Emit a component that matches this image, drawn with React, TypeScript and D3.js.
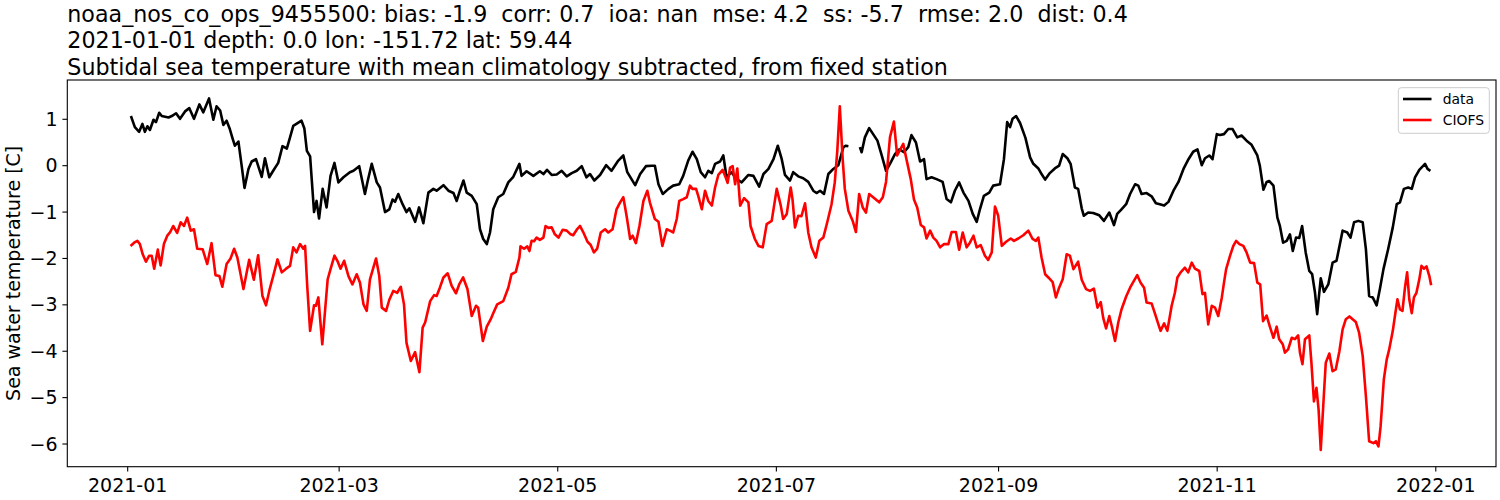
import React from "react";
import * as d3 from "d3";

const TITLE_LINES = [
  "noaa_nos_co_ops_9455500: bias: -1.9  corr: 0.7  ioa: nan  mse: 4.2  ss: -5.7  rmse: 2.0  dist: 0.4",
  "2021-01-01 depth: 0.0 lon: -151.72 lat: 59.44",
  "Subtidal sea temperature with mean climatology subtracted, from fixed station",
];
const Y_LABEL = "Sea water temperature [C]";
const START_DATE = "2021-01-01";
const X_TICKS = ["2021-01-01", "2021-03-01", "2021-05-01", "2021-07-01", "2021-09-01", "2021-11-01", "2022-01-01"];
const X_TICK_LABELS = ["2021-01", "2021-03", "2021-05", "2021-07", "2021-09", "2021-11", "2022-01"];
const Y_TICKS = [-6, -5, -4, -3, -2, -1, 0, 1];
const SERIES_NAMES = ["data", "CIOFS"];
const SERIES_COLORS = ["#000000", "#ff0000"];

// days since START_DATE
const DATA_DAYS = [
  0.9, 2, 3.2, 4.1, 4.8, 5.5, 6.2, 7.2, 7.9, 8.8, 9.5, 11.4, 12.3, 13.5, 14.6, 16, 17.2, 18.5, 20, 21.1,
  22.7, 23.9, 24.8, 25.8, 26.7, 27.6, 28.5, 29.3, 29.9, 30.9, 31.8, 32.6, 33.7, 34.6, 35.8, 37.4, 38.3, 39.5, 40.6, 42,
  43.2, 44.4, 45.3, 46.2, 48.5, 49.3, 50.0, 50.9, 52, 52.7, 53.4, 54.4, 55.5, 56.6, 57.7, 58.8, 60.2, 62, 63, 64.6,
  66.2, 67, 68.1, 69.5, 70.4, 71.8, 73, 73.9, 74.6, 75.5, 76.7, 77.8, 78.6, 80.2, 81.3, 82.5, 83.9, 85.3, 86.2, 88.1,
  89.5, 90.9, 91.8, 92.7, 93.7, 94.6, 96, 97.4, 98.3, 99.2, 100.2, 101.1, 102, 103.4, 104.8, 106.2, 107.6, 109.3, 109.9, 111.3,
  113.2, 115, 116, 117, 118.3, 119.7, 121.1, 122.5, 123.9, 125.3, 126.7, 128, 129, 130.2, 131.8, 133.5, 135, 136.9, 138.3, 139.4,
  141.6, 143, 144.6, 146.2, 147.1, 148.1, 149.3, 150.9, 152.2, 153.9, 155, 156.4, 157.6, 158.8, 159.9, 161.1, 162, 163, 163.9, 165.3,
  166.2, 167.1, 168.5, 169.9, 171.3, 173.2, 174.6, 176.2, 177.4, 178.8, 180.2, 181.4, 182.5, 183.4, 184.8, 185.7, 187.1, 188.5, 189.9, 191.3,
  192.2, 193.2, 194.3, 195.5, 196.9, 198.3, 199.7, 200.4, 201.1, 202.7, 204.3, 204.8, 205.7, 206.9, 208, 209.2, 210.4, 211.6, 212.7, 214.1,
  215.3, 216.6, 217.8, 218.7, 219.95, 221.1, 222.2, 222.9, 224.3, 225.7, 227.4, 228.5, 229.7, 230.8, 232, 233.2, 234.6, 235.8, 236.9, 237.8,
  238.9, 240.4, 241.5, 243.4, 244.5, 245.4, 246.2, 246.9, 247.9, 249, 250.5, 251.8, 252.7, 254.1, 255, 256, 257.3, 258.7, 259.9, 260.9,
  262.2, 263.1, 264.3, 265.2, 266.2, 266.8, 268, 269.4, 271.1, 272.4, 273.9, 275.2, 276.1, 277.3, 278.6, 279.7, 281.1, 282, 282.9, 284.3,
  285.7, 286.9, 288, 289.2, 290.4, 291.8, 293.2, 294.6, 296, 297.3, 298.5, 299.7, 300.6, 301.8, 302.7, 303.9, 304.8, 305.9, 307.1, 308.3,
  309.6, 310.8, 312.2, 313.6, 315.2, 315.9, 316.9, 317.8, 318.5, 319.7, 320.8, 321.5, 322.4, 323.4, 324.3, 325.1, 326, 326.9, 327.7, 328.7,
  329.7, 330.5, 331.3, 331.9, 332.9, 333.8, 335, 336.2, 337.3, 339, 340.3, 341.2, 342.2, 343.4, 344.6, 345.5, 346.4, 347.4, 348.5, 349.4,
  350.4, 351.7, 353, 354.1, 355, 356.1, 357.3, 358.3, 359.2, 360.4, 362, 362.7, 363.5,
];
const DATA_VALUES = [
  1.07, 0.83, 0.73, 0.9, 0.73, 0.85, 0.77, 0.99, 0.94, 1.14, 1.07, 1.04, 1.07, 1.13, 1.01, 1.17, 1.24, 1.01, 1.32, 1.15,
  1.45, 0.99, 1.28, 1.19, 0.88, 0.97, 0.79, 0.58, 0.43, 0.52, 0.0, -0.48, -0.07, 0.09, 0.14, -0.24, 0.16, -0.25, -0.11, 0.06,
  0.42, 0.37, 0.61, 0.86, 0.97, 0.8, 0.32, 0.2, -1.0, -0.76, -1.14, -0.5, -0.9, -0.22, 0.06, -0.36, -0.25, -0.14, -0.11, -0.01,
  -0.61, -0.32, 0.04, -0.36, -0.47, -1.0, -0.94, -0.73, -0.78, -0.61, -0.83, -1.0, -0.92, -1.21, -0.9, -1.24, -0.58, -0.5, -0.54, -0.42,
  -0.54, -0.59, -0.76, -0.54, -0.32, -0.58, -0.65, -0.83, -1.37, -1.58, -1.69, -1.44, -0.94, -0.68, -0.61, -0.36, -0.24, 0.04, -0.22, -0.12,
  -0.22, -0.12, -0.18, -0.09, -0.2, -0.19, -0.11, -0.23, -0.16, -0.11, -0.01, -0.25, -0.18, -0.32, -0.2, 0.01, -0.11, 0.11, 0.22, -0.14,
  -0.42, -0.18, -0.01, 0, 0, -0.4, -0.61, -0.5, -0.43, -0.4, -0.22, 0.11, 0.3, 0.14, -0.14, -0.25, -0.11, -0.16, 0.04, 0.09,
  0.22, -0.25, -0.14, -0.29, -0.36, -0.2, -0.22, -0.45, -0.18, -0.07, 0.14, 0.43, 0.14, -0.2, -0.32, -0.14, -0.23, -0.27, -0.35, -0.54,
  -0.59, -0.54, -0.61, -0.18, -0.07, 0.01, 0.4, 0.43, 0.42, null, 0.4, 0.29, 0.61, 0.81, 0.68, 0.54, 0.22, -0.11, 0.04, 0.25,
  0.35, 0.29, 0.4, 0.66, 0.5, 0.09, 0.14, -0.29, -0.25, -0.29, -0.35, -0.72, -0.79, -0.54, -0.36, -0.58, -0.76, -1.04, -1.21, -0.94,
  -0.65, -0.58, -0.43, -0.4, 0.14, 0.94, 0.83, 1.01, 1.07, 0.92, 0.6, 0.18, 0.04, -0.06, -0.18, -0.3, -0.16, -0.06, 0, 0.25,
  0.16, 0.04, -0.47, -0.5, -0.92, -1.08, -1.01, -1.02, -1.07, -1.19, -1.01, -1.28, -1.04, -0.94, -0.83, -0.61, -0.4, -0.43, -0.61, -0.59,
  -0.66, -0.81, -0.83, -0.86, -0.78, -0.54, -0.35, -0.07, 0.14, 0.3, 0.35, 0.01, 0.16, 0.22, 0.14, 0.68, 0.66, 0.68, 0.79, 0.79,
  0.61, 0.65, 0.54, 0.45, 0.22, 0.0, -0.52, -0.35, -0.33, -0.43, -1.12, -1.3, -1.66, -1.62, -1.48, -1.84, -1.55, -1.56, -1.3, -1.87,
  -2.27, -2.34, -2.74, -3.2, -2.43, -2.72, -2.56, -2.09, -2.05, -1.4, -1.44, -1.55, -1.22, -1.19, -1.22, -1.8, -2.81, -2.84, -3.01, -2.66,
  -2.23, -1.8, -1.33, -0.83, -0.79, -0.5, -0.47, -0.5, -0.25, -0.09, 0.04, -0.07, -0.11,
];

const MODEL_DAYS = [
  0.8, 1.8, 2.7, 3.4, 4.2, 5.1, 6.0, 6.7, 7.4, 8.4, 9.2, 10.1, 11.1, 11.8, 12.7, 13.8, 14.8, 15.7, 16.6, 17.6,
  18.5, 19.4, 20.9, 22.2, 23.4, 24.5, 25.6, 26.4, 27.6, 28.7, 29.7, 30.6, 32.3, 33.9, 35.2, 36.4, 37.6, 38.6, 39.5, 40.6,
  41.8, 43, 44.2, 45.3, 46.2, 47.1, 48.1, 49.0, 49.5, 50.1, 50.9, 52, 52.5, 53.2, 53.7, 54.3, 55.1, 55.8, 56.6, 57.7,
  58.5, 59.4, 60.4, 61.6, 62.7, 63.9, 64.8, 65.8, 66.7, 67.6, 69.3, 70.2, 70.9, 72.1, 73, 74.1, 75.2, 76.2, 77.1, 77.8,
  79, 80.2, 81.4, 82.3, 83, 84.4, 85.5, 86.2, 87.1, 88.1, 89.3, 90.4, 91.6, 92.5, 93.6, 94.8, 96, 97.2, 97.8, 99.1,
  100.2, 101.3, 102, 103.1, 104.8, 106.2, 107.1, 108.3, 109.3, 109.6, 110.6, 111.5, 112.1, 112.7, 113.4, 114.1, 115, 116, 116.6, 117.4,
  118.3, 119.2, 120.2, 121.4, 122.5, 123.6, 124.3, 125.3, 126.2, 127.1, 128.3, 129.2, 130.1, 131.0, 132, 133.2, 134.1, 135.3, 136.4, 137.4,
  138.3, 139.2, 140.2, 140.9, 141.8, 142.8, 143.9, 145, 145.7, 147.1, 148.1, 149.2, 150.4, 151.3, 152.2, 153.2, 153.9, 155, 156, 156.9,
  157.6, 158.6, 159.2, 160.2, 161.1, 162, 163, 163.9, 164.8, 166, 166.7, 167.4, 168.1, 168.8, 169.5, 170.1, 170.9, 172, 173.2, 173.8,
  175, 176, 177.2, 178.3, 179.7, 181.1, 182.2, 182.9, 183.9, 185, 185.5, 186.2, 187.1, 188, 189, 189.9, 190.8, 192, 193, 194.1,
  195.2, 196.4, 197.3, 198, 198.7, 199.5, 200.1, 201.1, 202.3, 203.2, 204.1, 205.1, 206, 206.9, 208, 209.7, 210.7, 211.6, 212.7, 213.8,
  214.7, 215.7, 216.4, 217.3, 218.5, 219.4, 220.3, 221.3, 222.2, 222.9, 223.9, 224.8, 225.7, 226.7, 227.8, 229, 229.9, 231.1, 232, 233,
  234.1, 235, 236, 236.9, 238, 239.2, 240.1, 241.1, 242, 242.9, 243.9, 245.1, 246.4, 247.3, 248.5, 249.9, 251.3, 252.5, 253.4, 254.1,
  255, 256, 256.9, 258.1, 259, 259.9, 260.9, 262, 262.9, 263.9, 265.2, 266.2, 267.4, 268.5, 269.6, 270.6, 271.5, 272.2, 273, 273.9,
  274.6, 275.5, 276.4, 277.3, 278.6, 279.7, 280.8, 281.7, 282.6, 283.6, 284.3, 285.7, 286.6, 287.6, 288.2, 289.2, 290.1, 291.3, 292.2, 292.9,
  293.8, 295, 295.9, 296.9, 297.8, 299, 299.9, 300.6, 301.5, 302.5, 303.4, 304.3, 305.3, 305.9, 306.5, 307.6, 308.5, 309.3, 310.2, 311.3,
  312.2, 313.2, 314.3, 315.2, 316, 316.8, 317.8, 318.7, 319.7, 320.6, 321.3, 322.3, 322.9, 323.8, 324.8, 325.7, 326.6, 327.1, 327.8, 328.5,
  329.7, 330.3, 331, 331.7, 332.3, 332.9, 333.8, 334.3, 335.3, 336.2, 337.1, 338.1, 339, 339.9, 340.9, 341.8, 342.7, 343.6, 344.6, 345.5,
  346.4, 347.6, 348.3, 349, 349.6, 350.5, 351.3, 352, 353, 353.6, 354.3, 355, 355.7, 356.4, 357, 357.6, 358.3, 358.9, 359.6, 360.4,
  361, 361.7, 362.4, 363.2, 363.7,
];
const MODEL_VALUES = [
  -1.73, -1.66, -1.62, -1.69, -1.91, -2.07, -1.94, -1.94, -2.22, -1.81, -2.15, -1.69, -1.5, -1.44, -1.3, -1.45, -1.22, -1.3, -1.12, -1.4,
  -1.37, -1.79, -1.8, -2.12, -1.67, -2.36, -2.38, -2.61, -2.12, -2.0, -1.79, -1.98, -2.66, -2.03, -2.46, -1.93, -2.81, -3.01, -2.7, -2.38,
  -2.02, -2.3, -2.22, -2.16, -1.76, -1.87, -1.69, -1.79, -1.73, -2.6, -3.56, -3.01, -3.02, -2.84, -3.31, -3.85, -3.1, -2.45, -2.23, -1.94,
  -2.05, -2.22, -2.05, -2.38, -2.56, -2.34, -2.52, -2.99, -3.13, -2.45, -2.0, -2.38, -3.06, -3.13, -2.89, -2.7, -2.74, -2.61, -2.99, -3.82,
  -4.21, -4.02, -4.45, -3.49, -3.38, -2.92, -2.79, -2.81, -2.63, -2.41, -2.32, -2.59, -2.75, -2.56, -2.41, -2.66, -3.24, -3.02, -3.06, -3.78,
  -3.47, -3.31, -3.18, -2.99, -2.92, -2.63, -2.34, -2.29, -1.98, -1.74, -1.79, -1.74, -1.84, -1.62, -1.63, -1.55, -1.6, -1.55, -1.3, -1.34,
  -1.33, -1.48, -1.55, -1.38, -1.4, -1.48, -1.5, -1.38, -1.3, -1.43, -1.64, -1.71, -1.87, -1.79, -1.44, -1.37, -1.44, -1.37, -0.94, -0.79,
  -0.68, -1.08, -1.58, -1.51, -1.67, -1.3, -0.76, -0.54, -0.79, -1.15, -1.21, -1.73, -1.37, -1.4, -1.44, -1.15, -0.76, -0.72, -0.68, -0.43,
  -0.5, -0.5, -0.65, -0.94, -0.54, -0.76, -0.86, -0.47, -0.2, -0.09, -0.22, -0.37, -0.04, -0.01, -0.4, -0.06, -0.86, -0.7, -0.79, -1.3,
  -1.58, -1.73, -1.76, -1.26, -1.19, -0.5, -0.85, -1.15, -1.04, -0.47, -0.72, -1.33, -1.08, -1.09, -0.81, -1.44, -1.76, -1.98, -1.62, -1.55,
  -1.22, -0.83, -0.36, 0.32, 1.28, 0.14, -0.5, -0.97, -1.19, -1.43, -0.61, -0.9, -1.01, -0.61, -0.68, -0.79, -0.68, -0.35, 0.61, 0.95,
  0.22, 0.37, 0.47, 0.14, -0.29, -0.73, -0.9, -1.28, -1.33, -1.57, -1.4, -1.55, -1.62, -1.76, -1.69, -1.69, -1.43, -1.43, -1.81, -1.44,
  -1.76, -1.66, -1.51, -1.76, -1.71, -1.94, -2.03, -1.87, -0.88, -1.08, -1.73, -1.64, -1.57, -1.62, -1.57, -1.5, -1.4, -1.58, -1.62, -1.55,
  -1.98, -2.34, -2.41, -2.51, -2.84, -2.63, -2.45, -1.91, -1.94, -2.23, -2.07, -2.46, -2.66, -2.7, -2.65, -3.06, -2.94, -3.28, -3.51, -3.24,
  -3.46, -3.78, -3.38, -3.1, -2.82, -2.63, -2.48, -2.36, -2.52, -2.63, -2.95, -2.97, -3.18, -3.42, -3.56, -3.4, -3.56, -3.02, -2.74, -2.41,
  -2.3, -2.2, -2.3, -2.09, -2.22, -2.27, -2.77, -2.74, -3.42, -3.02, -3.06, -3.24, -2.84, -2.52, -2.23, -1.94, -1.73, -1.62, -1.69, -1.73,
  -1.87, -2.09, -2.1, -2.52, -2.56, -3.35, -3.23, -3.47, -3.71, -3.47, -3.74, -3.85, -4.03, -3.96, -3.71, -3.74, -3.66, -4.03, -4.28, -3.74,
  -3.66, -4.25, -5.08, -4.79, -5.26, -6.13, -4.9, -4.25, -4.05, -4.43, -4.39, -4.0, -3.53, -3.31, -3.25, -3.31, -3.37, -3.6, -4.1, -4.97,
  -5.94, -5.98, -5.94, -6.05, -5.62, -4.61, -4.18, -3.96, -3.56, -3.24, -2.88, -3.1, -3.13, -2.63, -2.3, -2.88, -3.18, -2.84, -2.74, -2.45,
  -2.16, -2.22, -2.17, -2.38, -2.58,
];

const W = 1500;
const H = 500;
const M = { left: 67.3, right: 1496, top: 80, bottom: 466.7 };
const FONT = "'DejaVu Sans', sans-serif";
const DAY_MS = 86400000;

function parseDay(s: string): Date {
  const [y, m, d] = s.split("-").map(Number);
  return new Date(Date.UTC(y, m - 1, d));
}

export default function App() {
  const start = parseDay(START_DATE);
  const toDate = (d: number) => new Date(start.getTime() + d * DAY_MS);

  // axis limits (matplotlib auto-margins) expressed as days since start
  const x = d3
    .scaleUtc()
    .domain([toDate(-16.85), toDate(381.8)])
    .range([M.left, M.right]);
  const y = d3.scaleLinear().domain([-6.489, 1.847]).range([M.bottom, M.top]);

  const mk = (days: number[], vals: (number | null)[]) =>
    days.map((d, i) => ({ t: toDate(d), v: vals[i] }));
  const series = [mk(DATA_DAYS, DATA_VALUES), mk(MODEL_DAYS, MODEL_VALUES)];

  const line = d3
    .line<{ t: Date; v: number | null }>()
    .defined((d) => d.v !== null && d.v !== undefined)
    .x((d) => x(d.t))
    .y((d) => y(d.v as number));

  const fmtY = (v: number) => (v < 0 ? "\u2212" + Math.abs(v) : String(v));
  const cy = (M.top + M.bottom) / 2;

  return (
    <div style={{ position: "fixed", left: 0, top: 0, width: W, height: H, background: "#fff" }}>
      <svg width={W} height={H} style={{ display: "block" }} fontFamily={FONT}>
        <rect x={0} y={0} width={W} height={H} fill="#fff" />
        {TITLE_LINES.map((t, i) => (
          <text
            key={i}
            x={M.left}
            y={22 + i * 26.3}
            fontSize={22.2}
            fill="#000"
            xmlSpace="preserve"
            style={{ whiteSpace: "pre" }}
          >
            {t}
          </text>
        ))}
        {series.map((s, i) => (
          <path
            key={i}
            d={line(s) || ""}
            fill="none"
            stroke={SERIES_COLORS[i]}
            strokeWidth={2.6}
            strokeLinejoin="round"
          />
        ))}
        <rect
          x={M.left}
          y={M.top}
          width={M.right - M.left}
          height={M.bottom - M.top}
          fill="none"
          stroke="#000"
          strokeWidth={1.1}
        />
        {X_TICKS.map((t, i) => {
          const px = x(parseDay(t));
          return (
            <g key={t}>
              <line x1={px} x2={px} y1={M.bottom} y2={M.bottom + 4.9} stroke="#000" strokeWidth={1.1} />
              <text x={px} y={491.5} fontSize={19} textAnchor="middle" fill="#000">
                {X_TICK_LABELS[i]}
              </text>
            </g>
          );
        })}
        {Y_TICKS.map((v) => {
          const py = y(v);
          return (
            <g key={v}>
              <line x1={M.left - 4.9} x2={M.left} y1={py} y2={py} stroke="#000" strokeWidth={1.1} />
              <text x={M.left - 9.8} y={py} dy="0.35em" fontSize={19} textAnchor="end" fill="#000">
                {fmtY(v)}
              </text>
            </g>
          );
        })}
        <text
          transform={`translate(19.5,${cy}) rotate(-90)`}
          fontSize={19}
          textAnchor="middle"
          fill="#000"
        >
          {Y_LABEL}
        </text>
        <g>
          <rect x={1398.3} y={87.7} width={91} height={45.6} rx={3} fill="#fff" fillOpacity={0.8} stroke="#cccccc" strokeWidth={1} />
          {SERIES_NAMES.map((n, i) => {
            const ly = 99 + i * 21;
            return (
              <g key={n}>
                <line x1={1403} x2={1431.5} y1={ly} y2={ly} stroke={SERIES_COLORS[i]} strokeWidth={2.6} />
                <text x={1442.7} y={ly} dy="0.36em" fontSize={13.9} fill="#000">
                  {n}
                </text>
              </g>
            );
          })}
        </g>
      </svg>
    </div>
  );
}
